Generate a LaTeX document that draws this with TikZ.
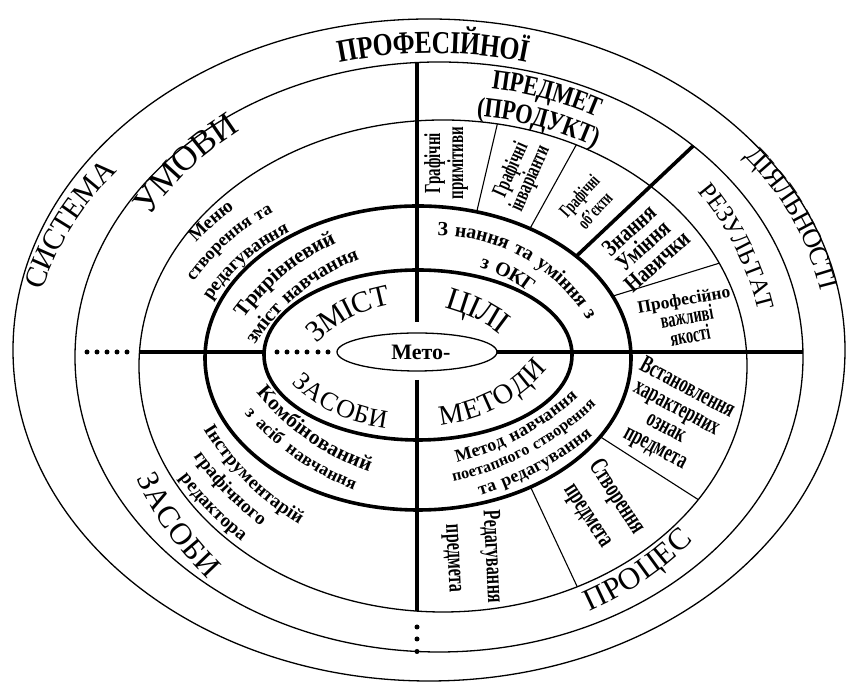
\documentclass[tikz,border=0pt]{standalone}
\usepackage{fontspec}
\setmainfont{Liberation Serif}
\newfontfamily\cnd[FakeStretch=0.65]{Liberation Serif}
\newfontfamily\cndm[FakeStretch=0.8]{Liberation Serif}
\newfontfamily\spc[LetterSpace=10]{Liberation Serif}
\newfontfamily\spcw[LetterSpace=20]{Liberation Serif}
\usetikzlibrary{decorations.text}

% single line of text on a circular arc through the letter centres A (#1,#2) and B (#3,#4), image coordinates
% #5 radius, #6 direction (1: letters face outwards, -1: letters face the centre), #7 raise, #8 extension, #9 text
\newcommand\chordT[9]{%
 \pgfmathsetmacro\cAx{#1}\pgfmathsetmacro\cAy{684-#2}%
 \pgfmathsetmacro\cBx{#3}\pgfmathsetmacro\cBy{684-#4}%
 \pgfmathsetmacro\cMx{(\cAx+\cBx)/2}\pgfmathsetmacro\cMy{(\cAy+\cBy)/2}%
 \pgfmathsetmacro\cC{100*sqrt(((\cBx-\cAx)/100)^2+((\cBy-\cAy)/100)^2)}%
 \pgfmathsetmacro\cPhi{atan2(\cBy-\cAy,\cBx-\cAx)}%
 \pgfmathsetmacro\cH{100*sqrt((#5/100)^2-(\cC/200)^2)}%
 \pgfmathsetmacro\cBeta{asin(\cC/(2*#5))}%
 \pgfmathsetmacro\cExt{deg(#8/#5)}%
 \ifnum#6>0
   \pgfmathsetmacro\cNa{\cPhi-90}%
   \pgfmathsetmacro\cMid{\cPhi+90}%
   \pgfmathsetmacro\cS{\cMid+\cBeta+\cExt}\pgfmathsetmacro\cE{\cMid-\cBeta-\cExt}%
 \else
   \pgfmathsetmacro\cNa{\cPhi+90}%
   \pgfmathsetmacro\cMid{\cPhi-90}%
   \pgfmathsetmacro\cS{\cMid-\cBeta-\cExt}\pgfmathsetmacro\cE{\cMid+\cBeta+\cExt}%
 \fi
 \pgfmathsetmacro\cCx{\cMx+\cH*cos(\cNa)}\pgfmathsetmacro\cCy{\cMy+\cH*sin(\cNa)}%
 \pgfmathsetmacro\cSx{\cCx+#5*cos(\cS)}\pgfmathsetmacro\cSy{\cCy+#5*sin(\cS)}%
 \path[decorate,decoration={text along path,text align=center,raise=#7pt,text={#9}}]
   (\cSx pt,\cSy pt) arc[start angle=\cS,end angle=\cE,radius=#5pt];%
}

% group of concentric lines: #1,#2 middle of first line (image coords), #3 reading angle, #4 radius, #5 direction
\newcommand\setgrp[5]{%
 \pgfmathsetmacro\gPx{#1}\pgfmathsetmacro\gPy{684-#2}%
 \ifnum#5>0 \pgfmathsetmacro\gN{#3-90}\else \pgfmathsetmacro\gN{#3+90}\fi
 \pgfmathsetmacro\gCx{\gPx+#4*cos(\gN)}\pgfmathsetmacro\gCy{\gPy+#4*sin(\gN)}%
 \pgfmathsetmacro\gAng{\gN+180}}
% #1 radius, #2 angle offset, #3 direction, #4 raise, #5 half length of the arc, #6 text
\newcommand\lineT[6]{%
 \pgfmathsetmacro\lA{\gAng+#2}%
 \pgfmathsetmacro\lD{deg(#5/#1)}%
 \ifnum#3>0 \pgfmathsetmacro\lS{\lA+\lD}\pgfmathsetmacro\lE{\lA-\lD}\else \pgfmathsetmacro\lS{\lA-\lD}\pgfmathsetmacro\lE{\lA+\lD}\fi
 \pgfmathsetmacro\lX{\gCx+#1*cos(\lS)}\pgfmathsetmacro\lY{\gCy+#1*sin(\lS)}%
 \path[decorate,decoration={text along path,text align=center,raise=#4pt,text={#6}}]
   (\lX pt,\lY pt) arc[start angle=\lS,end angle=\lE,radius=#1pt];}

\begin{document}
\begin{tikzpicture}[x=1pt,y=1pt,
  thinE/.style={line width=1.3pt},
  thickE/.style={line width=3.6pt},
  sepline/.style={line width=1.1pt},
  dotmark/.style={circle,fill=black,inner sep=0pt,minimum size=5pt},
  lbl/.style={align=center,inner sep=0pt}]
\fill[white] (0,0) rectangle (849,684);
\useasboundingbox (0,0) rectangle (849,684);

% ellipses
\draw[thinE] (429,334) ellipse[x radius=416pt,y radius=331pt];
\draw[thinE] (439,327) ellipse[x radius=364pt,y radius=295pt];
\draw[thinE] (443,318) ellipse[x radius=304pt,y radius=246pt];
\draw[thickE] (418,326) ellipse[x radius=213pt,y radius=152pt];
\draw[thickE] (418,329) ellipse[x radius=154pt,y radius=85pt];
\draw[line width=1.3pt] (417,332) ellipse[x radius=80pt,y radius=19pt];

% axes
\coordinate (vt1) at (417,621.5);
\coordinate (vt2) at (417,362);
\coordinate (vb1) at (417,304);
\coordinate (vb2) at (417,73);
\coordinate (hl1) at (139.5,332);
\coordinate (hl2) at (264,332);
\coordinate (hr1) at (497,332);
\coordinate (hr2) at (803,332);
\draw[thickE] (vt1) -- (vt2);
\draw[thickE] (vb1) -- (vb2);
\draw[thickE] (hl1) -- (hl2);
\draw[thickE] (hr1) -- (hr2);

% radial separators
\coordinate (d1) at ([shift={(418,326)}]42:213pt and 152pt);
\coordinate (d2) at ([shift={(439,327)}]45.7:364pt and 295pt);
\draw[thickE] (d1) -- (d2);
\coordinate (s1a) at ([shift={(418,326)}]74:213pt and 152pt);
\coordinate (s1b) at ([shift={(443,318)}]79.7:304pt and 246pt);
\coordinate (s2a) at ([shift={(418,326)}]58.3:213pt and 152pt);
\coordinate (s2b) at ([shift={(443,318)}]64:304pt and 246pt);
\coordinate (s3a) at ([shift={(418,326)}]24:213pt and 152pt);
\coordinate (s3b) at ([shift={(443,318)}]24.7:304pt and 246pt);
\coordinate (s4a) at ([shift={(418,326)}]-31.2:213pt and 152pt);
\coordinate (s4b) at ([shift={(443,318)}]-32.9:304pt and 246pt);
\coordinate (s5a) at ([shift={(418,326)}]-58.1:213pt and 152pt);
\coordinate (s5b) at ([shift={(443,318)}]-63.8:304pt and 246pt);
\draw[sepline] (s1a) -- (s1b);
\draw[sepline] (s2a) -- (s2b);
\draw[sepline] (s3a) -- (s3b);
\draw[sepline] (s4a) -- (s4b);
\draw[sepline] (s5a) -- (s5b);

% dots
\foreach \i/\x in {1/87,2/97,3/107,4/117,5/127}
  \node[dotmark] (dl\i) at (\x,332) {};
\foreach \i/\x in {1/277,2/287,3/297,4/307,5/318,6/328}
  \node[dotmark] (di\i) at (\x,332) {};
\foreach \i/\y in {1/57,2/45,3/32.5}
  \node[dotmark] (db\i) at (417,\y) {};

% outer ring
\chordT{33}{287}{110}{165}{290}{1}{-10}{70}{|\fontsize{30}{30}\selectfont|СИСТЕМА}
\chordT{342}{52}{525}{52}{480}{1}{-10}{80}{|\cndm\bfseries\fontsize{32}{32}\selectfont|ПРОФЕСІЙНОЇ}
\chordT{755}{155}{828}{283}{290}{1}{-9}{70}{|\fontsize{27}{27}\selectfont|ДІЯЛЬНОСТІ}

% second ring
\chordT{148}{200}{224}{128}{330}{1}{-11}{70}{|\fontsize{35}{35}\selectfont|УМОВИ}
\chordT{147}{478}{212}{570}{330}{-1}{-10}{70}{|\fontsize{31}{31}\selectfont|ЗАСОБИ}
\chordT{707}{190}{765}{305}{300}{1}{-8}{70}{|\fontsize{25}{25}\selectfont|РЕЗУЛЬТАТ}
\chordT{590}{600}{683}{537}{330}{-1}{-10}{70}{|\fontsize{31}{31}\selectfont|ПРОЦЕС}
\chordT{497}{80}{597}{107}{390}{1}{-9}{70}{|\cndm\bfseries\fontsize{28}{28}\selectfont|ПРЕДМЕТ}
\chordT{485}{108}{592}{136}{360}{1}{-9}{70}{|\cndm\bfseries\fontsize{28}{28}\selectfont|(ПРОДУКТ)}

% inside the inner thick ellipse
\chordT{313}{333}{385}{296}{150}{1}{-10}{50}{|\spc\fontsize{30}{30}\selectfont|ЗМІСТ}
\chordT{448}{297}{507}{326}{150}{1}{-11}{50}{|\spc\fontsize{32}{32}\selectfont|ЦІЛІ}
\chordT{297}{376}{388}{419}{150}{-1}{-9}{50}{|\spc\fontsize{26}{26}\selectfont|ЗАСОБИ}
\chordT{445}{415}{537}{367}{150}{-1}{-9}{50}{|\spc\fontsize{28}{28}\selectfont|МЕТОДИ}

% ring between the thick ellipses
\setgrp{282}{271}{39.3}{245}{1}
\lineT{245}{0}{1}{-5}{110}{|\spc\bfseries\fontsize{21}{21}\selectfont|Трирівневий}
\lineT{221}{0}{1}{-5}{110}{|\spc\bfseries\fontsize{20}{20}\selectfont|зміст навчання}
\setgrp{526}{254}{-29.4}{180}{1}
\lineT{180}{0}{1}{-5}{130}{|\spc\bfseries\fontsize{20}{20}\selectfont|З нання та уміння з}
\lineT{154}{2.2}{1}{-5}{80}{|\spc\bfseries\fontsize{20}{20}\selectfont|з ОКГ}
\setgrp{310}{436}{-35}{250}{-1}
\lineT{250}{0}{-1}{-5}{110}{|\spc\bfseries\fontsize{21}{21}\selectfont|Комбінований}
\lineT{273}{0}{-1}{-4}{110}{|\spcw\bfseries\fontsize{18}{18}\selectfont|з асіб навчання}
\setgrp{519}{433}{28.3}{280}{-1}
\lineT{280}{0}{-1}{-5}{110}{|\spc\bfseries\fontsize{18}{18}\selectfont|Метод навчання}
\lineT{299}{0}{-1}{-4}{110}{|\spc\bfseries\fontsize{16}{16}\selectfont|поетапного створення}
\lineT{318}{0}{-1}{-5}{110}{|\spc\bfseries\fontsize{18}{18}\selectfont|та редагування}

% ring between the middle thin ellipse and the outer thick one
\setgrp{211}{221}{41}{250}{1}
\lineT{250}{0}{1}{-5}{100}{|\spc\bfseries\fontsize{19}{19}\selectfont|Меню}
\lineT{226}{0}{1}{-4}{100}{|\spc\bfseries\fontsize{18}{18}\selectfont|створення та}
\lineT{202}{0}{1}{-5}{100}{|\spc\bfseries\fontsize{19}{19}\selectfont|редагування}
\setgrp{249}{479}{-44.8}{280}{-1}
\lineT{280}{0}{-1}{-5}{120}{|\spcw\bfseries\fontsize{19}{19}\selectfont|Інструментарій}
\lineT{303}{-1.3}{-1}{-5}{120}{|\spcw\bfseries\fontsize{19}{19}\selectfont|графічного}
\lineT{327}{-1}{-1}{-5}{120}{|\spcw\bfseries\fontsize{19}{19}\selectfont|редактора}

% straight cell labels
\node[lbl,rotate=90,font=\cnd\bfseries\fontsize{23}{23}\selectfont] (gp) at (446,521) {Графічні\\примітиви};
\node[lbl,rotate=66,font=\cnd\bfseries\fontsize{22}{21}\selectfont] (gi) at (521,509.5) {Графічні\\інваріанти};
\node[lbl,rotate=48,font=\cnd\bfseries\fontsize{19}{21}\selectfont] (go) at (587,481) {Графічні\\об’єкти};
\node[lbl,rotate=42,font=\cndm\bfseries\fontsize{24}{21}\selectfont] (zn) at (643,438.3) {Знання\\Уміння\\Навички};
\node[lbl,rotate=10,font=\fontsize{20}{19}\selectfont] (pv) at (687,366)
  {{\bfseries\fontsize{17.5}{19}\selectfont Професійно}\\{\cnd\bfseries\fontsize{22}{19}\selectfont важливі}\\{\cnd\bfseries\fontsize{22}{19}\selectfont якості}};
\node[lbl,rotate=-28,font=\cnd\bfseries\fontsize{25}{22.5}\selectfont] (vs) at (671,265.5) {Встановлення\\характерних\\ознак\\предмета};
\node[lbl,rotate=-57,font=\cnd\bfseries\fontsize{26}{34}\selectfont] (st) at (602,177.5) {Створення\\предмета};
\node[lbl,rotate=-87,font=\cnd\bfseries\fontsize{25}{38}\selectfont] (rd) at (472.5,126.5) {Редагування\\предмета};
\node[lbl,font=\bfseries\fontsize{22}{22}\selectfont] (meto) at (421,332) {Мето-};
\end{tikzpicture}
\end{document}
